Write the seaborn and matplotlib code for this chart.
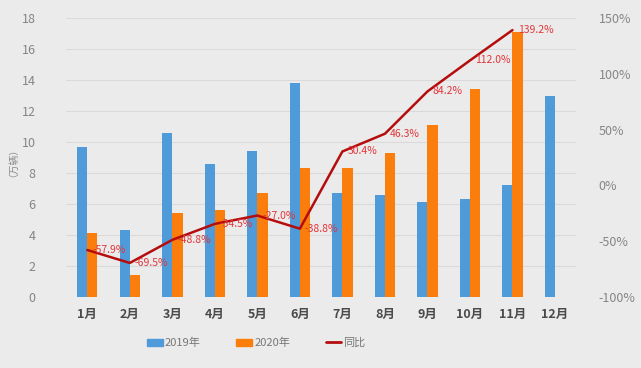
import numpy as np
import pandas as pd
import seaborn as sns
import matplotlib.pyplot as plt
from matplotlib.patches import Patch
from matplotlib.lines import Line2D

months = ["1月", "2月", "3月", "4月", "5月", "6月", "7月", "8月", "9月", "10月", "11月", "12月"]
sales_2019 = [9.7, 4.3, 10.6, 8.6, 9.4, 13.8, 6.7, 6.6, 6.1, 6.3, 7.2, 13.0]
sales_2020 = [4.1, 1.4, 5.4, 5.6, 6.7, 8.3, 8.3, 9.3, 11.1, 13.4, 17.1, np.nan]
yoy = [-57.9, -69.5, -48.8, -34.5, -27.0, -38.8, 30.4, 46.3, 84.2, 112.0, 139.2]

blue = "#4f9ad9"
orange = "#fb7d0c"
line_red = "#b50d0d"
label_red = "#e2363a"
bg = "#ebebeb"

df = pd.DataFrame({
    "月份": months * 2,
    "销量": sales_2019 + sales_2020,
    "年份": ["2019年"] * 12 + ["2020年"] * 12,
})

sns.set_theme(style="white")
plt.rcParams["font.family"] = ["Noto Sans CJK SC", "DejaVu Sans"]

fig, ax = plt.subplots(figsize=(6.41, 3.68), dpi=100)
fig.patch.set_facecolor(bg)
ax.set_facecolor(bg)
fig.subplots_adjust(left=0.103, right=0.899, top=0.951, bottom=0.193)

sns.barplot(data=df, x="月份", y="销量", hue="年份", palette=[blue, orange],
            width=0.48, gap=0, saturation=1, linewidth=0, ax=ax, legend=False)
ax.set_ylim(0, 18)
ax.set_yticks(range(0, 19, 2))
ax.set_xlim(-0.5, 11.5)
ax.grid(axis="y", color="#dadada", linewidth=0.8)
ax.set_axisbelow(True)
ax.set_xlabel("")
ax.set_ylabel("（万辆）", fontsize=7, color="#8a8a8a", labelpad=6)
ax.tick_params(axis="y", length=0, labelsize=9, labelcolor="#858585", pad=22)
ax.tick_params(axis="x", length=0, pad=8)
for lab in ax.get_xticklabels():
    lab.set_fontsize(9)
    lab.set_fontweight("bold")
    lab.set_color("#4a4a4a")
for s in ax.spines.values():
    s.set_visible(False)

ax2 = ax.twinx()
xpos = np.arange(len(yoy))
sns.lineplot(x=xpos, y=yoy, color=line_red, linewidth=1.8, ax=ax2)
ax2.set_ylim(-100, 150)
ax2.set_yticks(range(-100, 151, 50))
ax2.set_yticklabels([f"{v}%" for v in range(-100, 151, 50)])
ax2.tick_params(axis="y", length=0, labelsize=9, labelcolor="#858585", pad=16)
ax2.grid(False)
for s in ax2.spines.values():
    s.set_visible(False)
for x, v in zip(xpos, yoy):
    ax2.text(x + 0.12, v, f"{v:.1f}%", color=label_red, fontsize=7.5,
             ha="left", va="center")

handles = [Patch(color=blue), Patch(color=orange), Line2D([], [], color=line_red, linewidth=2)]
fig.legend(handles, ["2019年", "2020年", "同比"], loc="center", bbox_to_anchor=(0.4, 0.068),
           ncol=3, frameon=False, fontsize=8, handlelength=1.4, handleheight=0.6,
           columnspacing=3.2, handletextpad=0.2, labelcolor="#777777")

fig.savefig("out.png", dpi=100, facecolor=bg)
